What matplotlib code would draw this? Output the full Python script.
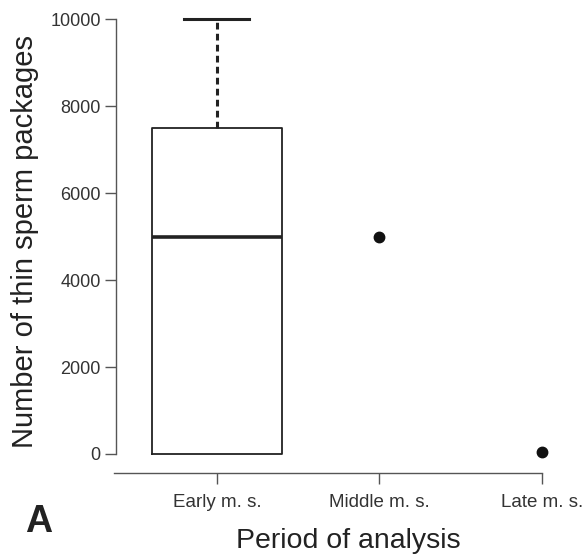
import numpy as np
from matplotlib import pyplot as plt

plt.rcParams['font.family'] = ['Liberation Sans', 'DejaVu Sans']

# periods of analysis and observed counts
periods = ["Early m. s.", "Middle m. s.", "Late m. s."]
early = [0, 0, 5000, 7500, 10000]
middle = [5000]
late = [50]

yticks = [0, 2000, 4000, 6000, 8000, 10000]

fig = plt.figure(figsize=(5.84, 5.54), dpi=100)
ax = fig.add_axes([0.1986, 0.1462, 0.7945, 0.8357])

# early period as R-style boxplot
bp = ax.boxplot(early, positions=[1], widths=0.8, whis=1.5, showfliers=False,
                boxprops=dict(color="#222222", linewidth=1.3),
                medianprops=dict(color="#222222", linewidth=2.6),
                whiskerprops=dict(color="#222222", linewidth=2.2, linestyle=(0, (2.2, 1.4))),
                capprops=dict(color="#222222", linewidth=2.2))
# lower whisker has zero length, so no cap there
bp["caps"][0].set_visible(False)
bp["whiskers"][0].set_visible(False)

# single observations drawn as points
ax.plot([2] * len(middle), middle, "o", color="#111111", markersize=7.5)
ax.plot([3] * len(late), late, "o", color="#111111", markersize=7.5)

ax.set_xlim(1 - 101 / 162.5, 3 + 38 / 162.5)
ax.set_ylim(-437, 10207)

ax.set_yticks(yticks)
ax.set_yticklabels([str(v) for v in yticks])
ax.set_xticks([1, 2, 3])
ax.set_xticklabels(periods)

for s in ["top", "right"]:
    ax.spines[s].set_visible(False)
ax.spines["left"].set_bounds(0, 10000)
ax.spines["bottom"].set_bounds(1 - 103 / 162.5, 3)
for s in ["left", "bottom"]:
    ax.spines[s].set_color("#555555")
    ax.spines[s].set_linewidth(1.0)

ax.tick_params(axis="y", length=8, width=1.0, color="#555555", labelsize=13,
               labelcolor="#333333", pad=3)
ax.tick_params(axis="x", length=8, width=1.0, color="#555555", labelsize=13.5,
               labelcolor="#333333", pad=7)

ax.set_ylabel("Number of thin sperm packages", fontsize=21, color="#222222", labelpad=8)
ax.set_xlabel("Period of analysis", fontsize=20.5, color="#222222", labelpad=12)

fig.text(0.043, 0.040, "A", fontsize=27, fontweight="bold", color="#222222")

plt.savefig("out.png", dpi=100)
